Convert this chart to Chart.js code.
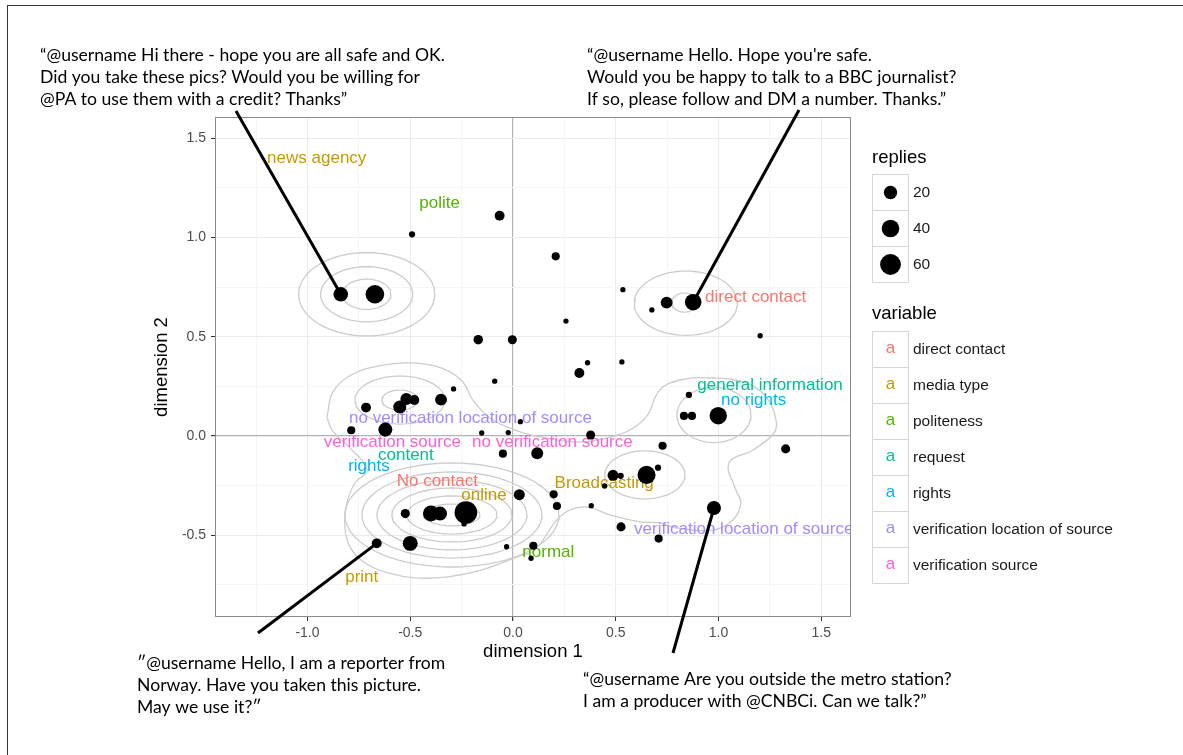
<!DOCTYPE html>
<html>
<head>
<meta charset="utf-8">
<script src="https://cdn.jsdelivr.net/npm/chart.js@4.4.1/dist/chart.umd.min.js"></script>
<style>
  html, body { margin: 0; padding: 0; background: #fff; }
  #wrap { width: 1183px; height: 755px; position: relative; }
</style>
</head>
<body>
<div id="wrap"><canvas id="chart" width="1183" height="755"></canvas></div>
<script>
// points (dimension 1, dimension 2, number of replies)
const dimX = [-0.838, -0.672, -0.491, -0.065, -0.169, -0.003, 0.208, 0.535, 0.748, 0.676,
  0.877, 0.258, 1.203, 0.363, 0.530, 0.856, 0.832, 0.871, 0.999, 0.728,
  1.327, 0.323, -0.089, -0.289, -0.715, -0.519, -0.480, -0.551, -0.350, -0.787,
  -0.621, 0.036, -0.152, -0.023, -0.049, 0.118, 0.031, 0.198, 0.214, -0.524,
  -0.399, -0.355, -0.229, -0.238, -0.663, -0.500, -0.031, 0.099, 0.088, 0.378,
  0.487, 0.524, 0.650, 0.706, 0.446, 0.381, 0.978, 0.526, 0.709];
const dimY = [0.714, 0.714, 1.016, 1.110, 0.485, 0.485, 0.905, 0.737, 0.672, 0.635,
  0.674, 0.579, 0.505, 0.369, 0.373, 0.207, 0.101, 0.101, 0.102, -0.049,
  -0.065, 0.317, 0.276, 0.237, 0.143, 0.186, 0.181, 0.146, 0.183, 0.029,
  0.032, 0.072, 0.015, 0.017, -0.089, -0.087, -0.296, -0.294, -0.353, -0.391,
  -0.390, -0.391, -0.386, -0.443, -0.541, -0.541, -0.558, -0.553, -0.616, 0.005,
  -0.198, -0.201, -0.196, -0.160, -0.252, -0.351, -0.363, -0.458, -0.517];
const replies = [25, 46, 2, 9, 8, 7, 5, 1, 15, 1,
  35, 1, 1, 1, 1, 2, 5, 5, 39, 5,
  7, 9, 1, 1, 9, 15, 9, 19, 15, 5,
  23, 1, 1, 1, 5, 15, 12, 5, 5, 7,
  32, 23, 73, 1, 9, 27, 1, 5, 1, 7,
  12, 2, 43, 2, 1, 1, 23, 7, 5];

// category labels
const labelText = ['news agency', 'polite', 'direct contact', 'general information', 'no rights',
  'no verification location of source', 'verification source', 'no verification source',
  'content', 'rights', 'No contact', 'online', 'Broadcasting',
  'verification location of source', 'normal', 'print'];
const labelX = [-0.955, -0.357, 1.181, 1.251, 1.171, -0.207, -0.587, 0.192,
  -0.521, -0.701, -0.368, -0.141, 0.444, 1.123, 0.172, -0.736];
const labelY = [1.397, 1.170, 0.697, 0.253, 0.178, 0.089, -0.034, -0.034,
  -0.096, -0.155, -0.230, -0.297, -0.238, -0.470, -0.586, -0.712];
const labelVar = [1, 2, 0, 3, 4, 5, 6, 6, 3, 4, 0, 1, 1, 5, 2, 1];

const variables = ['direct contact', 'media type', 'politeness', 'request', 'rights',
  'verification location of source', 'verification source'];
const varColors = ['#F8766D', '#C49A00', '#53B400', '#00C094', '#00B6EB', '#A58AFF', '#FB61D7'];
const sizeBreaks = [20, 40, 60];

// density contours: ellipses (centre, radii) ...
const ellCx = [-0.712, -0.712, -0.712, 0.841, 0.835, 0.978, 0.642, -0.550, -0.550,
  -0.297, -0.297, -0.297, -0.297, -0.297, -0.297];
const ellCy = [0.714, 0.714, 0.714, 0.669, 0.672, 0.106, -0.196, 0.181, 0.181,
  -0.398, -0.398, -0.398, -0.398, -0.398, -0.398];
const ellRx = [0.118, 0.224, 0.331, 0.251, 0.062, 0.180, 0.195, 0.088, 0.219,
  0.136, 0.219, 0.292, 0.365, 0.438, 0.521];
const ellRy = [0.076, 0.139, 0.210, 0.162, 0.048, 0.139, 0.121, 0.050, 0.121,
  0.055, 0.096, 0.136, 0.176, 0.217, 0.262];
// ... and the outer contour as a path
const outerX = [-0.905, -0.876, -0.788, -0.652, -0.496, -0.350, -0.248, -0.195, -0.112, 0.010,
  0.156, 0.326, 0.457, 0.569, 0.652, 0.715, 0.813, 0.974, 1.135, 1.232, 1.280, 1.270, 1.168,
  1.051, 1.085, 1.109, 1.070, 0.973, 0.793, 0.715, 0.618, 0.472, 0.360, 0.277, 0.214, 0.107,
  0.034, -0.151, -0.316, -0.477, -0.608, -0.720, -0.793, -0.818, -0.808, -0.769, -0.710,
  -0.808, -0.881, -0.905];
const outerY = [0.096, 0.222, 0.307, 0.353, 0.368, 0.343, 0.277, 0.181, 0.091, 0.030,
  -0.010, -0.030, -0.010, 0.030, 0.101, 0.232, 0.282, 0.292, 0.267, 0.196, 0.081, 0.015,
  -0.071, -0.136, -0.272, -0.338, -0.423, -0.474, -0.463, -0.438, -0.433, -0.398, -0.358,
  -0.373, -0.423, -0.574, -0.604, -0.675, -0.710, -0.715, -0.690, -0.640, -0.559, -0.458,
  -0.338, -0.237, -0.171, -0.045, 0.030, 0.096];

const xMin = -1.45, xMax = 1.645, yMin = -0.912, yMax = 1.607;

function radiusFor(v) { return 1.5 + 1.15 * Math.sqrt(v); }

function ellipsePoints(i) {
  const pts = [];
  for (let k = 0; k <= 72; k++) {
    const t = k / 72 * Math.PI * 2;
    pts.push({ x: ellCx[i] + ellRx[i] * Math.cos(t), y: ellCy[i] + ellRy[i] * Math.sin(t) });
  }
  return pts;
}

const contourSets = ellCx.map((c, i) => ({
  type: 'line', data: ellipsePoints(i), borderColor: '#cccccc', borderWidth: 1.3,
  pointRadius: 0, tension: 0, fill: false, order: 5
}));
contourSets.push({
  type: 'line', data: outerX.map((x, i) => ({ x: x, y: outerY[i] })), borderColor: '#cccccc',
  borderWidth: 1.3, pointRadius: 0, tension: 0.4, fill: false, order: 5
});

const pointSet = {
  type: 'scatter',
  data: dimX.map((x, i) => ({ x: x, y: dimY[i] })),
  backgroundColor: '#000', borderWidth: 0,
  pointRadius: ctx => radiusFor(replies[ctx.dataIndex]),
  pointHoverRadius: ctx => radiusFor(replies[ctx.dataIndex]),
  order: 0
};

// call-out messages
const notes = [
  { lines: ['\u201C@username Hi there - hope you are all safe and OK.', 'Did you take these pics? Would you be willing for', '@PA to use them with a credit? Thanks\u201D'],
    x: 40, y: 55, from: [236, 111], to: 0 },
  { lines: ['\u201C@username Hello. Hope you\'re safe.', 'Would you be happy to talk to a BBC journalist?', 'If so, please follow and DM a number. Thanks.\u201D'],
    x: 587, y: 55, from: [799, 110], to: 10 },
  { lines: ['\u2033@username Hello, I am a reporter from', 'Norway. Have you taken this picture.', 'May we use it?\u2033'],
    x: 137, y: 663, from: [258, 633], to: 44 },
  { lines: ['\u201C@username Are you outside the metro station?', 'I am a producer with @CNBCi. Can we talk?\u201D'],
    x: 583, y: 679, from: [673, 653], to: 56 }
];

const SANS = '"Liberation Sans", Arial, sans-serif';

const decor = {
  id: 'decor',
  beforeDatasetDraw(chart, args) {
    if (chart.data.datasets[args.index] !== pointSet) return;
    const { ctx, scales: { x, y } } = chart;
    ctx.save();
    ctx.beginPath();
    ctx.rect(chart.chartArea.left, chart.chartArea.top, chart.chartArea.width, chart.chartArea.height);
    ctx.clip();
    ctx.font = '17px ' + SANS;
    ctx.textAlign = 'center';
    ctx.textBaseline = 'middle';
    labelText.forEach((t, i) => {
      ctx.fillStyle = varColors[labelVar[i]];
      ctx.fillText(t, x.getPixelForValue(labelX[i]), y.getPixelForValue(labelY[i]));
    });
    ctx.restore();
  },
  afterDraw(chart) {
    const { ctx, chartArea: a, scales: { x, y } } = chart;
    ctx.save();
    // panel border
    ctx.strokeStyle = '#8c8c8c';
    ctx.lineWidth = 1;
    ctx.strokeRect(a.left + 0.5, a.top + 0.5, a.width - 1, a.height - 1);
    // outer frame
    ctx.strokeStyle = '#333';
    ctx.strokeRect(7.5, 5.5, 1300, 800);

    // legend
    ctx.textBaseline = 'middle';
    ctx.textAlign = 'left';
    ctx.fillStyle = '#000';
    ctx.font = '18.5px ' + SANS;
    ctx.fillText('replies', 872, 158);
    ctx.fillText('variable', 872, 314);
    sizeBreaks.forEach((v, i) => {
      const top = 174 + i * 36;
      ctx.fillStyle = '#fff';
      ctx.strokeStyle = '#d6d6d6';
      ctx.fillRect(872, top, 36, 36);
      ctx.strokeRect(872.5, top + 0.5, 36, 36);
      ctx.fillStyle = '#000';
      ctx.beginPath();
      ctx.arc(890.5, top + 18.5, radiusFor(v), 0, Math.PI * 2);
      ctx.fill();
      ctx.fillStyle = '#1a1a1a';
      ctx.font = '15.5px ' + SANS;
      ctx.fillText(String(v), 913, top + 19);
    });
    variables.forEach((v, i) => {
      const top = 331 + i * 36;
      ctx.fillStyle = '#fff';
      ctx.strokeStyle = '#d6d6d6';
      ctx.fillRect(872, top, 36, 36);
      ctx.strokeRect(872.5, top + 0.5, 36, 36);
      ctx.textAlign = 'center';
      ctx.fillStyle = varColors[i];
      ctx.font = '17px ' + SANS;
      ctx.fillText('a', 890.5, top + 17);
      ctx.textAlign = 'left';
      ctx.fillStyle = '#1a1a1a';
      ctx.font = '15.5px ' + SANS;
      ctx.fillText(v, 913, top + 19);
    });

    // call-out lines and texts
    ctx.strokeStyle = '#000';
    ctx.lineWidth = 3;
    ctx.lineCap = 'butt';
    notes.forEach(n => {
      ctx.beginPath();
      ctx.moveTo(n.from[0], n.from[1]);
      ctx.lineTo(x.getPixelForValue(dimX[n.to]), y.getPixelForValue(dimY[n.to]));
      ctx.stroke();
      ctx.fillStyle = '#000';
      ctx.font = '17.6px Lato, "Open Sans", sans-serif';
      ctx.textAlign = 'left';
      n.lines.forEach((l, k) => ctx.fillText(l, n.x, n.y + k * 22.3));
    });
    ctx.restore();
  }
};

function isMajor(v) { return Math.abs(v * 2 - Math.round(v * 2)) < 1e-6; }
function gridColor(c) {
  const v = c.tick.value;
  if (Math.abs(v) < 1e-6) return '#b3b3b3';
  return isMajor(v) ? '#ebebeb' : '#f5f5f5';
}
function tickColor(c) { return isMajor(c.tick.value) ? '#333' : 'rgba(0,0,0,0)'; }

new Chart(document.getElementById('chart'), {
  type: 'scatter',
  data: { datasets: [...contourSets, pointSet] },
  options: {
    responsive: false,
    animation: false,
    events: [],
    layout: { padding: { left: 151, right: 332, top: 117, bottom: 92 } },
    plugins: { legend: { display: false }, tooltip: { enabled: false } },
    scales: {
      x: {
        type: 'linear', min: xMin, max: xMax,
        afterFit(s) { s.height = 46; },
        ticks: {
          stepSize: 0.25, includeBounds: false, autoSkip: false, maxRotation: 0,
          padding: 4, color: '#4d4d4d', font: { family: '"Liberation Sans", Arial', size: 14 },
          callback: v => isMajor(v) ? v.toFixed(1) : ''
        },
        grid: { color: gridColor, lineWidth: c => Math.abs(c.tick.value) < 1e-6 ? 1.2 : 1, tickColor: tickColor, tickLength: 4 },
        border: { display: false },
        title: { display: true, text: 'dimension 1', color: '#000', padding: 0, font: { family: '"Liberation Sans", Arial', size: 18.5 } }
      },
      y: {
        type: 'linear', min: yMin, max: yMax,
        afterFit(s) { s.width = 64; },
        ticks: {
          stepSize: 0.25, includeBounds: false, autoSkip: false,
          padding: 5, color: '#4d4d4d', font: { family: '"Liberation Sans", Arial', size: 14 },
          callback: v => isMajor(v) ? v.toFixed(1) : ''
        },
        grid: { color: gridColor, lineWidth: c => Math.abs(c.tick.value) < 1e-6 ? 1.2 : 1, tickColor: tickColor, tickLength: 4 },
        border: { display: false },
        title: { display: true, text: 'dimension 2', color: '#000', padding: 0, font: { family: '"Liberation Sans", Arial', size: 18.5 } }
      }
    }
  },
  plugins: [decor]
});
</script>
</body>
</html>
